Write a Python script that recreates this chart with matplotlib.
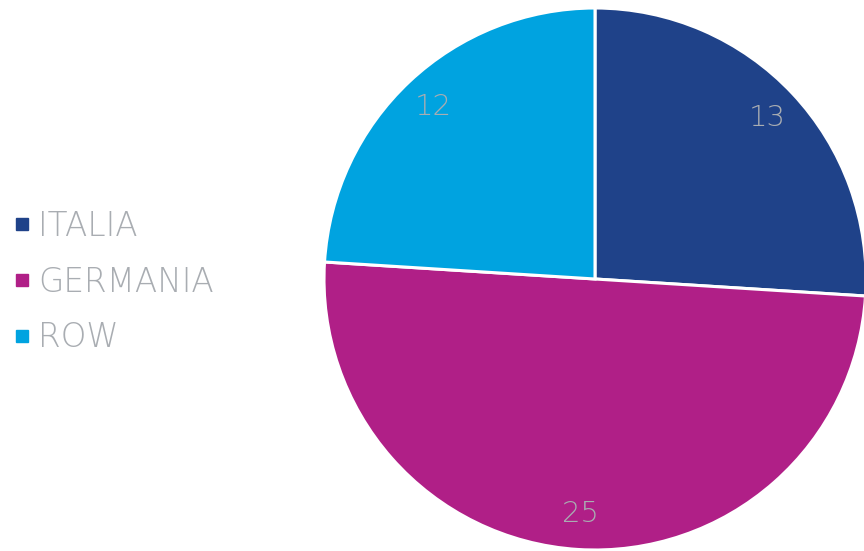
import matplotlib
matplotlib.use("Agg")
import matplotlib.pyplot as plt
from matplotlib.lines import Line2D

categories = ["ITALIA", "GERMANIA", "ROW"]
values = [13, 25, 12]
colors = ["#1f4289", "#b01f87", "#00a3e0"]

TEXT_COLOR = "#a9adb2"
FONT = "DejaVu Sans"

fig = plt.figure(figsize=(8.64, 5.51), dpi=100)
ax = fig.add_axes([0, 0, 1, 1])

total = sum(values)
wedges, texts, autotexts = ax.pie(
    values,
    colors=colors,
    startangle=90,
    counterclock=False,
    center=(595, 272),
    radius=271,
    autopct=lambda p: "{:.0f}".format(p * total / 100),
    pctdistance=0.87,
    wedgeprops=dict(edgecolor="white", linewidth=2.2),
    textprops=dict(color=TEXT_COLOR, fontsize=21, family=FONT, weight="ultralight"),
)
# pie() resets the limits, so set them afterwards
ax.set_xlim(0, 864)
ax.set_ylim(0, 551)
ax.set_aspect("equal")
ax.axis("off")

handles = [Line2D([], [], marker="s", linestyle="none", markersize=9,
                  markerfacecolor=c, markeredgecolor=c) for c in colors]
leg = fig.legend(handles, categories, loc="center left", bbox_to_anchor=(-0.026, 0.488),
                 frameon=False, handletextpad=0.05, labelspacing=0.70, handlelength=0.9,
                 prop=dict(family=FONT, size=23.5, weight="ultralight"))
for t in leg.get_texts():
    t.set_color(TEXT_COLOR)

plt.savefig("out.png", dpi=100)
